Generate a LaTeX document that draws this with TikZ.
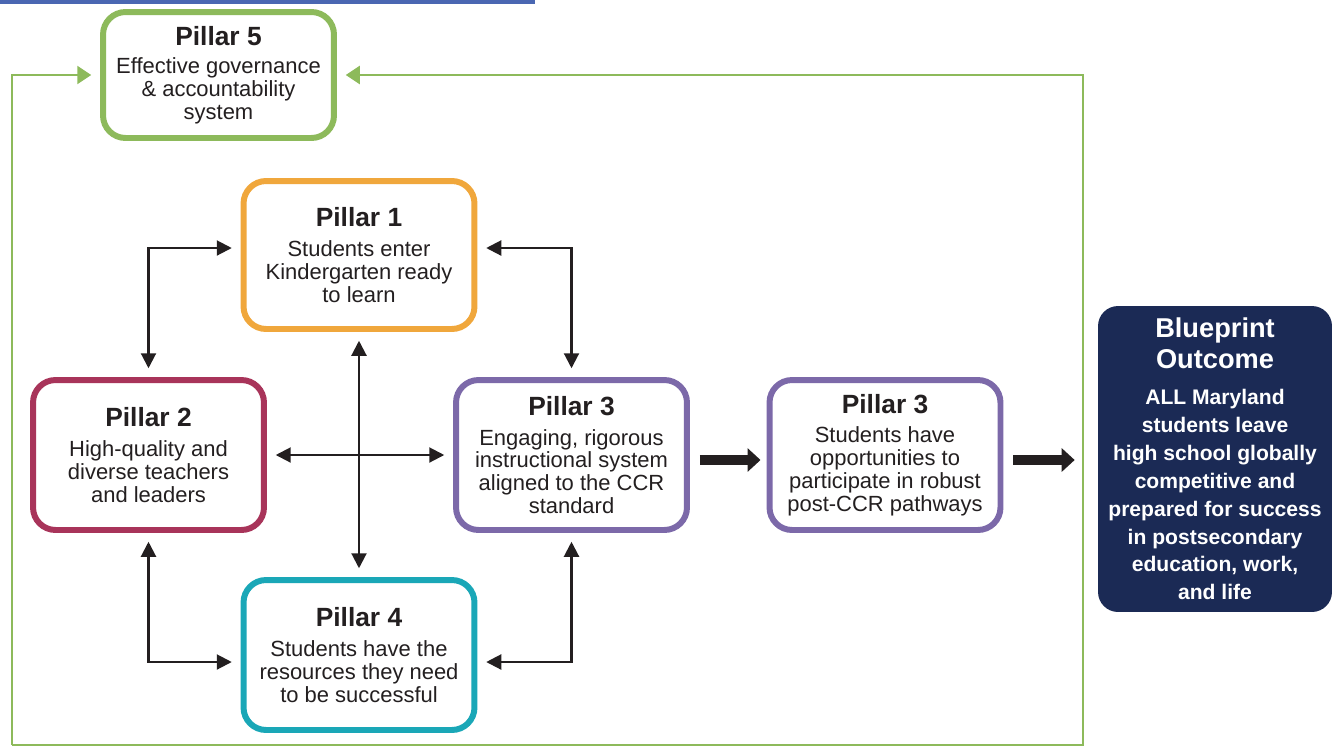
\documentclass[tikz,border=0pt]{standalone}
\usepackage{fontspec}
\setmainfont{Liberation Sans}
\usetikzlibrary{arrows.meta}

\definecolor{ink}{HTML}{231F20}
\definecolor{pgreen}{HTML}{8DBA5B}
\definecolor{porange}{HTML}{F0A73C}
\definecolor{pred}{HTML}{A8345A}
\definecolor{ppurple}{HTML}{7C69A9}
\definecolor{pteal}{HTML}{1AA7B7}
\definecolor{pnavy}{HTML}{1B2A55}
\definecolor{pbar}{HTML}{4A67B2}

\newcommand{\ptitle}[1]{{\fontsize{15}{17}\selectfont\bfseries #1}}
\newcommand{\otitle}[1]{{\fontsize{15.5}{17.5}\selectfont\bfseries #1}}

\begin{document}
\begin{tikzpicture}[x=0.02cm,y=-0.02cm,
  pillar/.style={draw, line width=3.4pt, rounded corners=0.45cm, fill=white,
    align=center, minimum width=4.62cm, minimum height=3.0cm, inner sep=2pt,
    text=ink, font=\fontsize{12.5}{13}\selectfont},
  link/.style={<->, >={Triangle[length=0.3cm,width=0.3cm]}, line width=1.2pt,
    draw=ink, shorten <=5pt, shorten >=5pt},
  flow/.style={-{Triangle[length=0.26cm,width=0.46cm]}, line width=5.5pt, draw=ink},
  loop/.style={draw=pgreen, line width=1.3pt}]
\useasboundingbox (0,0) rectangle (1332,748);
\fill[pbar] (0,0) rectangle (535,3.5);

\node [pillar, draw=pgreen, minimum height=2.52cm] (P5) at (218.5,75)
  {\ptitle{Pillar 5}\\[3pt] Effective governance\\ \& accountability\\ system};
\node [pillar, draw=porange, minimum height=2.96cm] (P1) at (359,255)
  {\ptitle{Pillar 1}\\[4pt] Students enter\\ Kindergarten ready\\ to learn};
\node [pillar, draw=pred] (P2) at (148.5,455)
  {\ptitle{Pillar 2}\\[4pt] High-quality and\\ diverse teachers\\ and leaders};
\node [pillar, draw=ppurple] (P3) at (571.5,455)
  {\ptitle{Pillar 3}\\[4pt] Engaging, rigorous\\ instructional system\\ aligned to the CCR\\ standard};
\node [pillar, draw=ppurple] (P3b) at (885,455)
  {\ptitle{Pillar 3}\\[4pt] Students have\\ opportunities to\\ participate in robust\\ post-CCR pathways};
\node [pillar, draw=pteal] (P4) at (359,655)
  {\ptitle{Pillar 4}\\[4pt] Students have the\\ resources they need\\ to be successful};
\node [fill=pnavy, rounded corners=0.4cm, minimum width=4.68cm, minimum height=6.12cm,
  align=center, text=white, inner sep=2pt, font=\fontsize{12}{15.9}\selectfont\bfseries] (BO) at (1215,459)
  {\otitle{Blueprint}\\[1.7pt] \otitle{Outcome}\\[4.5pt]
   ALL Maryland\\ students leave\\ high school globally\\ competitive and\\
   prepared for success\\ in postsecondary\\ education, work,\\ and life};

% green feedback loop
\coordinate (L) at (12,745);
\coordinate (R) at (1083,745);
\draw[loop, -{Triangle[length=0.28cm,width=0.36cm]}, shorten >=5pt] (L) |- (P5.west);
\draw[loop, -{Triangle[length=0.28cm,width=0.36cm]}, shorten >=5pt] (L) -- (R) |- (P5.east);

% links between pillars
\draw[link] (P2.north) |- ([yshift=0.14cm]P1.west);
\draw[link] ([yshift=0.14cm]P1.east) -| (P3.north);
\draw[link] (P2.south) |- ([yshift=-0.14cm]P4.west);
\draw[link] (P3.south) |- ([yshift=-0.14cm]P4.east);
\draw[link] (P2.east) -- (P3.west);
\draw[link] (P1.south) -- (P4.north);

% flow to outcome
\coordinate (F1) at ([yshift=-0.1cm]P3.east);
\coordinate (F2) at ([yshift=-0.1cm]P3b.east);
\draw[flow, shorten <=0.2cm, shorten >=0.12cm] (F1) -- (F1 -| P3b.west);
\draw[flow, shorten <=0.2cm, shorten >=0.46cm] (F2) -- (F2 -| BO.west);
\end{tikzpicture}
\end{document}
